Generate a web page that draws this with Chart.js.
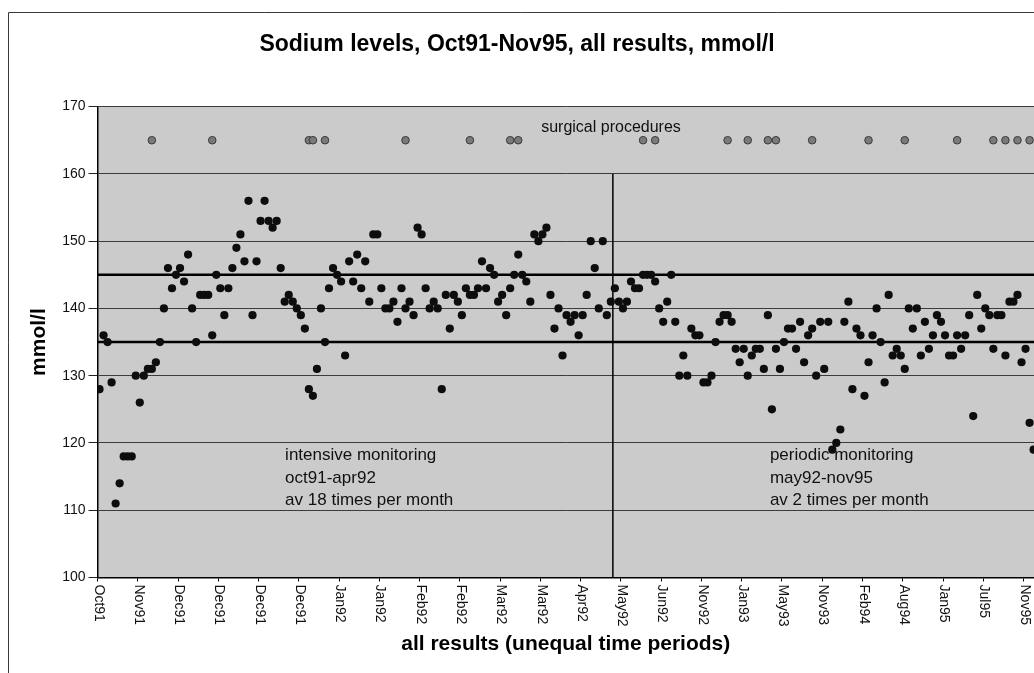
<!DOCTYPE html>
<html>
<head>
<meta charset="utf-8">
<script src="https://cdn.jsdelivr.net/npm/chart.js@4.4.0/dist/chart.umd.min.js"></script>
<style>
  html, body { margin: 0; padding: 0; background: #ffffff; overflow: hidden; }
  #wrap { position: relative; width: 1034px; height: 673px; }
  canvas { display: block; }
</style>
</head>
<body>
<div id="wrap"><canvas id="c" width="1034" height="673"></canvas></div>
<script>
// ---------------- DATA ----------------
const chartTitle = 'Sodium levels, Oct91-Nov95, all results, mmol/l';
const yTitle = 'mmol/l';
const xTitle = 'all results (unequal time periods)';

// tick labels, one every 10 results
const tickLabels = ['Oct91','Nov91','Dec91','Dec91','Dec91','Dec91','Jan92','Jan92','Feb92','Feb92',
  'Mar92','Mar92','Apr92','May92','Jun92','Nov92','Jan93','May93','Nov93','Feb94','Aug94','Jan95','Jul95','Nov95'];

// sodium results in order (mmol/l)
const sodium = [
  128,136,135,129,111,114,118,118,118,130,126,130,131,131,132,135,140,146,143,145,
  146,144,148,140,135,142,142,142,136,145,143,139,143,146,149,151,147,156,139,
  147,153,156,153,152,153,146,141,142,141,140,139,137,128,127,131,140,135,143,146,
  145,144,133,147,144,148,143,147,141,151,151,143,140,140,141,138,143,140,141,139,
  152,151,143,140,141,140,128,142,137,142,141,139,143,142,142,143,147,143,146,145,
  141,142,139,143,145,148,145,144,141,151,150,151,152,142,137,140,133,139,138,
  139,136,139,142,150,146,140,150,139,141,143,141,140,141,144,143,143,145,145,145,
  144,140,138,141,145,138,130,133,130,137,136,136,129,129,130,135,138,139,139,138,
  134,132,134,130,133,134,134,131,139,125,134,131,135,137,137,134,138,132,136,137,
  130,138,131,138,119,120,122,138,141,128,137,136,127,132,136,140,135,129,142,
  133,134,133,131,140,137,140,133,138,134,136,139,138,136,133,133,136,134,136,139,
  124,142,137,140,139,134,139,139,133,141,141,142,132,134,123,119
];

// result positions at which surgical procedures took place
const surgeryIdx = [13,28,52,53,56,76,92,102,104,135,138,156,161,166,168,177,191,200,213,222,225,228,231];
const surgeryLevel = 165;

// reference lines
const refLow = 135;
const refHigh = 145;
const dividerIdx = 128;       // change from intensive to periodic monitoring
const dividerTop = 160;

const notes = {
  surgery: 'surgical procedures',
  intensive: ['intensive monitoring', 'oct91-apr92', 'av 18 times per month'],
  periodic: ['periodic monitoring', 'may92-nov95', 'av 2 times per month']
};

// ---------------- CHART ----------------
const FONT = "'Liberation Sans', Arial, Helvetica, sans-serif";
const xMax = 232.6;

const sodiumPts = sodium.map((v, i) => ({ x: i + 0.5, y: v }));
const surgeryPts = surgeryIdx.map(i => ({ x: i + 0.5, y: surgeryLevel }));

const framePlugin = {
  id: 'frame',
  beforeDraw(chart) {
    const { ctx, chartArea: a } = chart;
    ctx.save();
    ctx.fillStyle = '#ffffff';
    ctx.fillRect(0, 0, chart.width, chart.height);
    // outer chart frame
    ctx.strokeStyle = '#3a3a3a';
    ctx.lineWidth = 1;
    ctx.beginPath();
    ctx.moveTo(8.5, chart.height);
    ctx.lineTo(8.5, 12.5);
    ctx.lineTo(chart.width, 12.5);
    ctx.stroke();
    // plot background
    ctx.fillStyle = '#cbcbcb';
    ctx.fillRect(a.left, a.top, a.right - a.left, a.bottom - a.top);
    ctx.restore();
  },
  afterDraw(chart) {
    const { ctx } = chart;
    const xs = chart.scales.x, ys = chart.scales.y;
    ctx.save();
    // rotated x tick labels (reading top to bottom)
    ctx.fillStyle = '#111';
    ctx.font = '14px ' + FONT;
    ctx.textAlign = 'left';
    ctx.textBaseline = 'middle';
    xs.ticks.forEach((t) => {
      const px = xs.getPixelForValue(t.value);
      const lbl = tickLabels[Math.round(t.value / 10)];
      if (lbl === undefined) return;
      ctx.save();
      ctx.translate(px + 1, xs.top + 7);
      ctx.rotate(Math.PI / 2);
      ctx.fillText(lbl, 0, 0);
      ctx.restore();
    });
    // annotations
    ctx.fillStyle = '#111';
    ctx.textBaseline = 'middle';
    ctx.textAlign = 'left';
    ctx.font = '16px ' + FONT;
    ctx.fillText(notes.surgery, xs.getPixelForValue(110.2), ys.getPixelForValue(166.95));
    ctx.font = '17px ' + FONT;
    const lineVals = [118.2, 114.8, 111.5];
    notes.intensive.forEach((s, k) => ctx.fillText(s, xs.getPixelForValue(46.6), ys.getPixelForValue(lineVals[k])));
    notes.periodic.forEach((s, k) => ctx.fillText(s, xs.getPixelForValue(167.0), ys.getPixelForValue(lineVals[k])));
    ctx.restore();
  }
};

new Chart(document.getElementById('c'), {
  type: 'scatter',
  data: {
    datasets: [
      {
        label: 'sodium',
        data: sodiumPts,
        backgroundColor: '#0d0d0d',
        borderColor: '#0d0d0d',
        borderWidth: 0,
        pointRadius: 4.1,
        order: 1
      },
      {
        label: 'surgical procedures',
        data: surgeryPts,
        backgroundColor: '#7a7a7a',
        borderColor: '#3a3a3a',
        borderWidth: 1,
        pointRadius: 3.8,
        order: 2
      },
      {
        label: 'low',
        type: 'line',
        data: [{ x: 0, y: refLow }, { x: xMax, y: refLow }],
        borderColor: '#000',
        borderWidth: 2.5,
        pointRadius: 0,
        order: 5
      },
      {
        label: 'high',
        type: 'line',
        data: [{ x: 0, y: refHigh }, { x: xMax, y: refHigh }],
        borderColor: '#000',
        borderWidth: 2.5,
        pointRadius: 0,
        order: 5
      },
      {
        label: 'divider',
        type: 'line',
        data: [{ x: dividerIdx, y: 100 }, { x: dividerIdx, y: dividerTop }],
        borderColor: '#000',
        borderWidth: 1.5,
        pointRadius: 0,
        order: 5
      }
    ]
  },
  options: {
    responsive: false,
    animation: false,
    devicePixelRatio: 1,
    layout: { padding: 0, autoPadding: false },
    plugins: {
      legend: { display: false },
      tooltip: { enabled: false },
      title: {
        display: true,
        text: chartTitle,
        color: '#000',
        font: { family: FONT, size: 23, weight: 'bold' },
        padding: { top: 31, bottom: 48 }
      }
    },
    scales: {
      x: {
        type: 'linear',
        min: 0,
        max: xMax,
        afterFit(s) { s.height = 95.5; s.paddingLeft = 0; s.paddingRight = 0; },
        ticks: {
          stepSize: 10,
          includeBounds: false,
          autoSkip: false,
          minRotation: 90,
          maxRotation: 90,
          color: 'rgba(0,0,0,0)',
          font: { family: FONT, size: 14 },
          callback: (v) => tickLabels[Math.round(v / 10)] ?? ''
        },
        grid: { drawOnChartArea: false, drawTicks: true, tickLength: 4, tickColor: '#000', tickWidth: 1 },
        border: { display: true, color: '#000', width: 1.5 },
        title: {
          display: true,
          text: xTitle,
          color: '#000',
          font: { family: FONT, size: 21, weight: 'bold' },
          padding: { top: 0, bottom: 16 }
        }
      },
      y: {
        min: 100,
        max: 170,
        afterFit(s) { s.width = 97.5; s.paddingTop = 0; s.paddingBottom = 0; },
        ticks: {
          stepSize: 10,
          color: '#111',
          padding: 3,
          font: { family: FONT, size: 14 }
        },
        grid: { color: '#3c3c3c', lineWidth: 1, tickLength: 9, tickColor: '#222' },
        border: { display: true, color: '#000', width: 1.5 },
        title: {
          display: true,
          text: yTitle,
          color: '#000',
          font: { family: FONT, size: 21, weight: 'bold' },
          padding: { top: 27, bottom: 0 }
        }
      }
    }
  },
  plugins: [framePlugin]
});
</script>
</body>
</html>
